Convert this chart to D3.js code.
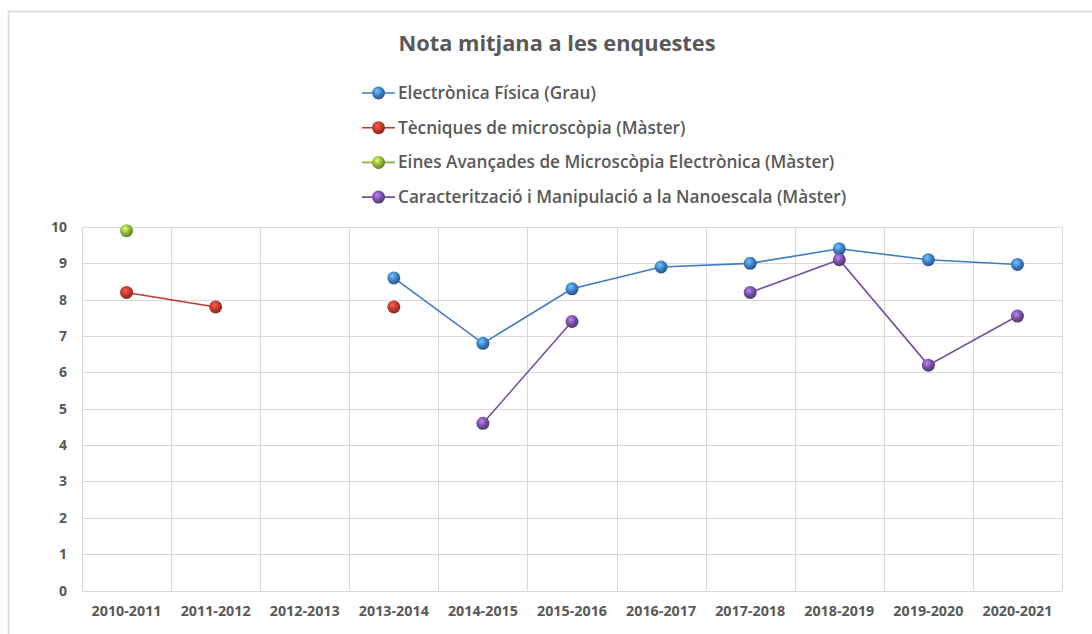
<!DOCTYPE html>
<html>
<head>
<meta charset="utf-8">
<script src="https://cdn.jsdelivr.net/npm/d3@7"></script>
<style>
  body { margin: 0; background: #fff; }
  text { font-family: "Open Sans", "Liberation Sans", sans-serif; fill: #595959; }
</style>
</head>
<body>
<svg width="1092" height="634"></svg>
<script>
var years = ["2010-2011", "2011-2012", "2012-2013", "2013-2014", "2014-2015", "2015-2016",
             "2016-2017", "2017-2018", "2018-2019", "2019-2020", "2020-2021"];
var yTicks = [0, 1, 2, 3, 4, 5, 6, 7, 8, 9, 10];

var electronica = [null, null, null, 8.6, 6.8, 8.3, 8.9, 9.0, 9.4, 9.1, 8.97];
var tecniques   = [8.2, 7.8, null, 7.8, null, null, null, null, null, null, null];
var eines       = [9.9, null, null, null, null, null, null, null, null, null, null];
var caracter    = [null, null, null, null, 4.6, 7.4, null, 8.2, 9.1, 6.2, 7.55];

var names = ["Electrònica Física (Grau)",
             "Tècniques de microscòpia (Màster)",
             "Eines Avançades de Microscòpia Electrònica (Màster)",
             "Caracterització i Manipulació a la Nanoescala (Màster)"];
var colors = ["#3f7cc4", "#c0392f", "#8db43a", "#7450a0"];
var series = [electronica, tecniques, eines, caracter];

var svg = d3.select("svg");

// chart frame
svg.append("path")
  .attr("d", "M8.5,640 V11.5 H1100")
  .attr("fill", "none")
  .attr("stroke", "#d9d9d9")
  .attr("stroke-width", 1.5);

// sphere-like gradients for markers
var defs = svg.append("defs");
colors.forEach(function(c, i) {
  var g = defs.append("radialGradient")
    .attr("id", "ball" + i)
    .attr("cx", "40%").attr("cy", "35%").attr("r", "65%");
  g.append("stop").attr("offset", "0%").attr("stop-color", d3.color(c).brighter(1.4));
  g.append("stop").attr("offset", "55%").attr("stop-color", c);
  g.append("stop").attr("offset", "100%").attr("stop-color", d3.color(c).darker(1));
});

var x = d3.scaleBand().domain(years).range([82, 1062]);
var y = d3.scaleLinear().domain([0, 10]).range([590.5, 227]);

// horizontal gridlines
svg.append("g")
  .selectAll("line")
  .data(yTicks)
  .enter().append("line")
    .attr("x1", 82).attr("x2", 1062)
    .attr("y1", function(d) { return Math.round(y(d)) + 0.5; })
    .attr("y2", function(d) { return Math.round(y(d)) + 0.5; })
    .attr("stroke", "#d9d9d9");

// vertical gridlines at category boundaries
svg.append("g")
  .selectAll("line")
  .data(years.concat(["end"]))
  .enter().append("line")
    .attr("x1", function(d, i) { return Math.round(82 + i * x.bandwidth()) + 0.5; })
    .attr("x2", function(d, i) { return Math.round(82 + i * x.bandwidth()) + 0.5; })
    .attr("y1", y(10)).attr("y2", y(0))
    .attr("stroke", "#d9d9d9");

// y labels
svg.append("g")
  .selectAll("text")
  .data(yTicks)
  .enter().append("text")
    .attr("x", 67)
    .attr("y", function(d) { return y(d) + 5; })
    .attr("text-anchor", "end")
    .style("font-size", "14px")
    .style("font-weight", "bold")
    .text(function(d) { return d; });

// x labels
svg.append("g")
  .selectAll("text")
  .data(years)
  .enter().append("text")
    .attr("x", function(d) { return x(d) + x.bandwidth() / 2; })
    .attr("y", 616)
    .attr("text-anchor", "middle")
    .style("font-size", "14.3px")
    .style("font-weight", "bold")
    .text(function(d) { return d; });

// lines
var line = d3.line()
  .defined(function(d) { return d !== null; })
  .x(function(d, i) { return x(years[i]) + x.bandwidth() / 2; })
  .y(function(d) { return y(d); });

series.forEach(function(s, k) {
  svg.append("path")
    .datum(s)
    .attr("d", line)
    .attr("fill", "none")
    .attr("stroke", colors[k])
    .attr("stroke-width", 1.6);
});

series.forEach(function(s, k) {
  svg.append("g")
    .selectAll("circle")
    .data(s.map(function(v, i) { return { v: v, i: i }; }).filter(function(d) { return d.v !== null; }))
    .enter().append("circle")
      .attr("cx", function(d) { return x(years[d.i]) + x.bandwidth() / 2; })
      .attr("cy", function(d) { return y(d.v); })
      .attr("r", 6.5)
      .style("fill", "url(#ball" + k + ")");
});

// title
svg.append("text")
  .attr("x", 557)
  .attr("y", 51)
  .attr("text-anchor", "middle")
  .style("font-size", "21.8px")
  .style("font-weight", "bold")
  .text("Nota mitjana a les enquestes");

// legend
var legend = svg.append("g")
  .selectAll("g")
  .data(names)
  .enter().append("g")
    .attr("transform", function(d, i) { return "translate(362," + (93 + i * 34.7) + ")"; });

legend.append("line")
  .attr("x1", 0).attr("x2", 33)
  .attr("stroke", function(d, i) { return colors[i]; })
  .attr("stroke-width", 1.6);

legend.append("circle")
  .attr("cx", 16.5).attr("r", 6.5)
  .style("fill", function(d, i) { return "url(#ball" + i + ")"; });

legend.append("text")
  .attr("x", 36)
  .attr("y", 6)
  .style("font-size", "17.2px")
  .style("font-weight", "600")
  .text(function(d) { return d; });
</script>
</body>
</html>
